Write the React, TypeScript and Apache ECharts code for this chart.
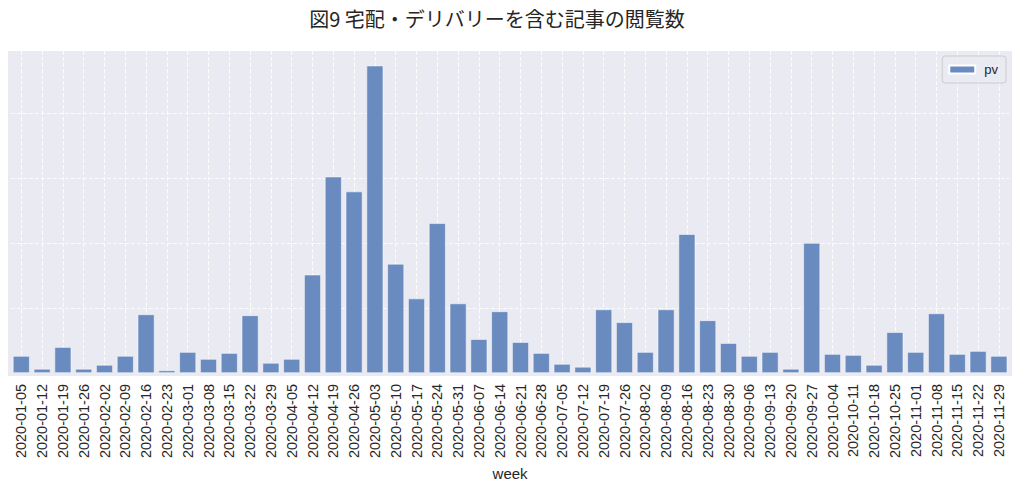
import React, { useEffect, useRef } from "react";
import * as echarts from "echarts";

const weeks: string[] = [
  "2020-01-05", "2020-01-12", "2020-01-19", "2020-01-26",
  "2020-02-02", "2020-02-09", "2020-02-16", "2020-02-23",
  "2020-03-01", "2020-03-08", "2020-03-15", "2020-03-22", "2020-03-29",
  "2020-04-05", "2020-04-12", "2020-04-19", "2020-04-26",
  "2020-05-03", "2020-05-10", "2020-05-17", "2020-05-24", "2020-05-31",
  "2020-06-07", "2020-06-14", "2020-06-21", "2020-06-28",
  "2020-07-05", "2020-07-12", "2020-07-19", "2020-07-26",
  "2020-08-02", "2020-08-09", "2020-08-16", "2020-08-23", "2020-08-30",
  "2020-09-06", "2020-09-13", "2020-09-20", "2020-09-27",
  "2020-10-04", "2020-10-11", "2020-10-18", "2020-10-25",
  "2020-11-01", "2020-11-08", "2020-11-15", "2020-11-22", "2020-11-29",
];

const pv: number[] = [
  260, 61, 397, 61,
  122, 260, 901, 38,
  321, 214, 305, 886, 153,
  214, 1512, 3023, 2794,
  4733, 1679, 1145, 2305, 1069,
  519, 947, 473, 305,
  137, 92, 977, 779,
  321, 977, 2137, 809, 458,
  260, 321, 61, 2000,
  290, 275, 122, 626,
  321, 916, 290, 336, 260,
];

const titleText = "図9 宅配・デリバリーを含む記事の閲覧数";

export default function App() {
  const ref = useRef<HTMLDivElement>(null);
  useEffect(() => {
    if (!ref.current) return;
    const chart = echarts.init(ref.current, undefined, { renderer: "svg" });
    const gridLine = { color: "rgba(255,255,255,0.85)", width: 1, type: [4, 2] as any };
    chart.setOption({
      animation: false,
      backgroundColor: "#ffffff",
      title: {
        text: titleText,
        left: 492,
        textAlign: "center",
        top: 3,
        textStyle: {
          fontFamily: "'Noto Sans CJK JP', sans-serif",
          fontSize: 20,
          fontWeight: "normal",
          color: "#262626",
        },
      },
      graphic: [
        {
          type: "rect",
          z: -10,
          silent: true,
          shape: { x: 8, y: 51, width: 1004, height: 325 },
          style: { fill: "#EAEAF2" },
        },
      ],
      legend: {
        right: 12,
        top: 56,
        orient: "vertical",
        itemWidth: 26,
        itemHeight: 8,
        itemGap: 6,
        padding: [7, 8, 7, 6],
        borderColor: "#cccccc",
        borderWidth: 1,
        borderRadius: 3,
        backgroundColor: "rgba(234,234,242,0.8)",
        textStyle: {
          fontFamily: "'Liberation Sans', Arial, sans-serif",
          fontSize: 13,
          color: "#262626",
          padding: [0, 0, 0, 4],
        },
        data: [{ name: "pv", icon: "rect" }],
      },
      grid: {
        left: 10.9,
        right: 8.7,
        top: 51,
        bottom: 110,
        containLabel: false,
      },
      xAxis: {
        type: "category",
        data: weeks,
        boundaryGap: true,
        name: "week",
        nameLocation: "middle",
        nameGap: 91,
        nameTextStyle: {
          fontFamily: "'Liberation Sans', Arial, sans-serif",
          fontSize: 15,
          color: "#262626",
        },
        axisLine: { show: false },
        axisTick: { show: false },
        axisLabel: {
          rotate: 90,
          interval: 0,
          margin: 11,
          fontFamily: "'Liberation Sans', Arial, sans-serif",
          fontSize: 14.5,
          color: "#262626",
        },
        splitLine: { show: true, alignWithLabel: true, lineStyle: gridLine } as any,
      },
      yAxis: {
        type: "value",
        min: 0,
        max: 4960,
        interval: 1000,
        axisLine: { show: false },
        axisTick: { show: false },
        axisLabel: { show: false },
        splitLine: { show: true, showMinLine: false, showMaxLine: false, lineStyle: gridLine } as any,
      },
      series: [
        {
          name: "pv",
          type: "bar",
          data: pv,
          barWidth: "80%",
          itemStyle: {
            color: "#6A8BC0",
            borderColor: "#ffffff",
            borderWidth: 0.5,
          },
        },
      ],
    });
    return () => chart.dispose();
  }, []);
  return <div ref={ref} style={{ width: 1018, height: 486, position: "absolute", left: 0, top: 0 }} />;
}
